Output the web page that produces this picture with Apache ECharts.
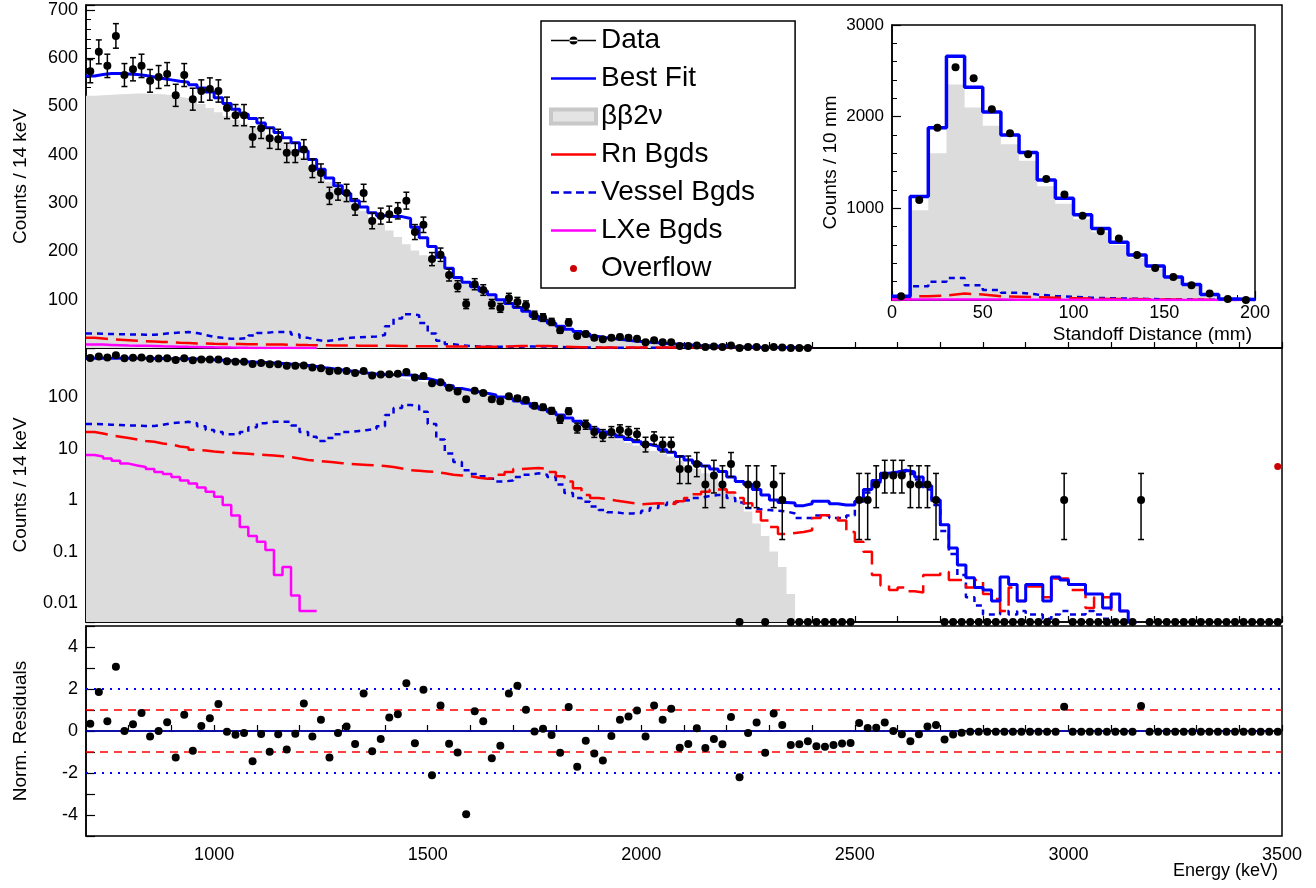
<!DOCTYPE html>
<html>
<head>
<meta charset="utf-8">
<script src="https://cdn.jsdelivr.net/npm/echarts@6/dist/echarts.min.js"></script>
<style>
  html, body { margin: 0; padding: 0; background: #fff; }
  #chart { width: 1316px; height: 888px; }
</style>
</head>
<body>
<div id="chart"></div>
<script>
// energy bins: 20 keV wide, centres 710 ... 3490
var binLo = 700, binW = 20;

var dataCounts = [
  573,613,584,646,565,577,584,553,561,567, 523,565,515,532,536,532,497,482,482,437,
  455,434,432,404,404,411,372,362,315,324, 321,292,321,263,273,277,284,305,240,255,
  184,193,151,128,91,132,120,91,83,103, 95,88,
  68,63,54,37,53,25,29,21,18,21, 23,21,19,12,16,12,12,4,4,5, 2,3,2,5,0,2,2,0,2,1,
  0,0,0,0,0,0,0,0,
  1,1,2,3,3,3,2,2,2,1,
  0,0,0,0,0,0,0,0,0,0, 0,0,0,0,1,0,0,0,0,0, 0,0,0,1,0,0,0,0,0,0, 0,0,0,0,0,0,0,0,0,0
];

var bestFit = [
  563,566,568,568,567,566,564,561,558,555, 552,550,545,538,530,518,506,494,484,475,
  466,456,446,435,425,408,390,370,352,336, 320,305,292,280,274,272,272,268,250,228,
  210,188,165,146,136,127,118,110,100,92, 84,76,
  65,58,51,45,39,34,29,24,21,19, 17,15,13.5,12,11,9.5,8.5,7,6,5.2, 4.6,4,3.6,
  2.8,2.3,2.0,1.6,1.25,1.0,0.9,0.88,0.78,0.85, 0.95,0.95,0.85,0.8,0.8,0.95,1.6,2.4,3.3,3.5,
  3.8,3.5,2.8,1.9,1.0,
  0.33,0.117,0.055,0.031,0.02,0.018,0.011,0.032,0.023,0.011, 0.023,0.023,0.011,0.032,0.028,0.023,0.023,0.015,0.015,0.008,
  0.015,0.007,0.004,0,0,0,0,0,0,0, 0,0,0,0,0,0,0,0,0,0
];

var bb2nu = [
  522,523,524,525,526,527,527,526,525,523, 520,517,512,505,497,488,480,472,464,456,
  448,440,432,425,412,396,378,360,344,328, 313,298,284,270,256,243,230,215,202,192,
  183,176,160,146,134,124,116,108,100,93, 86,78,
  62,55,48,42,36,31,26,22,19,17, 15,13,11.5,10,9,8,7,5.8,4.8,4.0,
  3.3,2.6,2.0,1.5,1.0,0.6,0.35,0.2,0.1,0.05, 0.015,
  0,0,0,0,0,0,0,0,0,0, 0,0,0,0,0,0,0,0,0,0, 0,0,0,0,0,0,0,0,0,0,
  0,0,0,0,0,0,0,0,0,0, 0,0,0,0,0,0,0,0,0,0, 0,0,0,0,0,0,0
];

var rnBgd = [
  21,19.5,18,17,16,15,14,13.5,12.5,12, 11,10.5,9.5,9.2,8.8,8.5,8.3,8.1,7.9,7.7,
  7.5,7.3,7.1,6.8,6.4,6.0,5.8,5.6,5.4,5.2, 5.0,4.9,4.8,4.7,4.6,4.4,4.1,3.8,3.7,3.6,
  3.5,3.3,3.1,3.0,2.9,2.7,2.6,2.7,3.1,3.5, 4.0,4.1,
  4.2,4.0,3.5,2.9,2.3,1.7,1.25,1.1,1.05,0.98, 0.93,0.88,0.83,0.85,0.87,0.85,0.84,0.95,1.1,1.3,
  1.45,1.6,1.63,1.4,1.1,0.87,0.6,0.4,0.3,0.22, 0.23,0.24,0.26,0.45,0.51,0.47,0.4,0.24,0.155,0.099,
  0.035,0.022,0.018,0.02,0.017,0.016,0.035,0.035,
  0.04,0.028,0.028,0.02,0.028,0.015,0.012,0.007,0.02,0.011, 0.021,0.021,0.013,0.03,0.03,0.018,0.018,0.008,0.013,0.013,
  0.007,0.007,0,0,0,0,0,0,0,0, 0,0,0,0,0,0,0,0,0,0
];

var vesselBgd = [
  30,29.5,29,28.5,28,28,27.5,27.5,29,31, 32,33,31,27,23,21,19,19,21,26,
  31,33,33,33,28,21,17,14,16,19, 21,22,23,24,27,45,61,70,68,52,
  30,15,8,5.5,3.8,3.2,2.9,2.6,2.3,2.4, 2.8,3.1,
  3.3,3.1,2.8,2.0,1.37,1.1,0.93,0.75,0.64,0.58, 0.55,0.55,0.56,0.62,0.7,0.8,0.9,0.98,1.0,1.1,
  1.2,1.25,1.25,1.1,0.9,0.7,0.66,0.64,0.62,0.6, 0.55,0.45,0.45,0.5,0.5,0.45,0.45,0.5,0.95,
  1.4,2.2,3.0,3.2,3.5,3.2,2.5,1.6,0.8,
  0.25,0.09,0.035,0.013,0.009,0.006,0.006,0.007,0.006,0.007, 0.006,0.006,0.005,0.006,0.007,0.006,0.006,0.007,0.006,0.005,
  0,0,0,0,0,0,0,0,0,0, 0,0,0,0,0,0,0,0,0,0
];

var lxeBgd = [
  7.5,7,6.4,5.8,5.1,4.7,4.4,4.0,3.5,3.2, 2.8,2.4,2.1,1.75,1.45,1.16,0.8,0.5,0.3,0.2,
  0.155,0.107,0.035,0.05,0.014,0.007,0.007
];

var residuals = [
  0.34,1.86,0.46,3.06,0,0.32,0.86,-0.26,0,0.42, -1.26,0.77,-0.94,0.24,0.61,1.28,-0.03,-0.18,-0.1,-1.44,
  -0.14,-0.99,-0.16,-0.88,-0.13,1.31,-0.26,0.53,-1.26,-0.1, 0.21,-0.62,1.79,-0.96,-0.38,0.64,0.8,2.27,-0.58,1.97,
  -2.11,1.22,-0.61,-1.02,-3.97,0.94,0.46,-1.3,-0.7,1.78, 2.16,1.01,-0.02,0.11,-0.19,-1.04,1.14,-1.7,-0.46,-1.07,
  -1.41,-0.24,0.54,0.69,0.98,-0.26,1.22,0.54,1.06,-0.8, -0.62,
  0.13,-0.81,-0.38,-0.63,0.67,-2.2,-0.1,0.41,-1.03,0.83, 0.29,-0.67,-0.63,-0.49,-0.73,-0.75,-0.67,-0.6,-0.57,0.38,
  0.14,0.16,0.4,0,-0.16,-0.49,-0.16,0.21,0.29,-0.41, -0.17,-0.08,
  -0.03,-0.03,-0.03,-0.03,-0.03,-0.03,-0.03,-0.03,-0.03,-0.03, -0.03,1.16,-0.03,-0.03,-0.03,-0.03,-0.03,-0.03,-0.03,-0.03,
  1.19,-0.03,-0.03,-0.03,-0.03,-0.03,-0.03,-0.03,-0.03,-0.03, -0.03,-0.03,-0.03,-0.03,-0.03,-0.03,-0.03
];

var overflow = [[3490, 4.5]];

// standoff inset: 10 mm bins 0..200
var sdData   = [40,1090,1880,2540,2420,2080,1820,1590,1320,1150,920,750,670,490,350,250,160,70,10,0];
var sdFit    = [40,1130,1880,2660,2320,2050,1800,1610,1310,1110,930,780,630,490,370,250,170,60,10,5];
var sdBB     = [30,980,1600,2350,2100,1900,1700,1520,1240,1050,880,740,600,460,340,240,160,60,10,5];
var sdVessel = [20,150,200,240,160,110,80,60,45,35,25,20,15,12,8,5,4,2,1,0];
var sdRn     = [10,40,50,70,60,40,35,30,25,20,15,12,10,8,6,4,3,2,1,0];
var sdLxe    = [5,5,6,6,5,5,4,4,3,3,3,2,2,2,1,1,1,1,0,0];

var LOGMIN = 0.0043, LOGMAX = 894, TOPCUT = 2400;

function steps(arr, lo, w, opts) {
  var out = [];
  for (var i = 0; i < arr.length; i++) {
    var a = lo + i * w, b = a + w, v = arr[i];
    if (opts.maxE && a >= opts.maxE) break;
    if (opts.log && !(v > 0)) { out.push([a, null]); continue; }
    out.push([a, v], [b, v]);
  }
  return out;
}
function centres(arr, opts) {
  var out = [];
  for (var i = 0; i < arr.length; i++) {
    var e = binLo + binW * (i + 0.5);
    if (opts.maxE && e >= opts.maxE) break;
    var v = arr[i];
    if (opts.log && v <= 0) v = LOGMIN;
    out.push([e, v]);
  }
  return out;
}
function poissonLo(n) { if (n <= 0) return 0; var t = 1 - 1 / (9 * n) - 1 / (3 * Math.sqrt(n)); return n * t * t * t; }
function poissonHi(n) { var m = n + 1; var t = 1 - 1 / (9 * m) + 1 / (3 * Math.sqrt(m)); return m * t * t * t; }

function errorBars(id, arr, opts) {
  var d = [];
  for (var i = 0; i < arr.length; i++) {
    var e = binLo + binW * (i + 0.5), n = arr[i];
    if (opts.maxE && e >= opts.maxE) break;
    if (n <= 0) continue;
    if (opts.log) d.push([e, poissonLo(n), poissonHi(n)]);
    else d.push([e, n - Math.sqrt(n), n + Math.sqrt(n)]);
  }
  return {
    type: 'custom', xAxisIndex: id, yAxisIndex: id, silent: true, z: 5,
    data: d,
    renderItem: function (params, api) {
      var p1 = api.coord([api.value(0), api.value(1)]);
      var p2 = api.coord([api.value(0), api.value(2)]);
      var st = { stroke: '#000', lineWidth: 1.5 };
      return { type: 'group', children: [
        { type: 'line', shape: { x1: p1[0], y1: p1[1], x2: p2[0], y2: p2[1] }, style: st },
        { type: 'line', shape: { x1: p1[0] - 3, y1: p1[1], x2: p1[0] + 3, y2: p1[1] }, style: st },
        { type: 'line', shape: { x1: p2[0] - 3, y1: p2[1], x2: p2[0] + 3, y2: p2[1] }, style: st }
      ] };
    }
  };
}

function stepLine(name, idx, pts, color, type, width, extra) {
  var s = {
    name: name, type: 'line', xAxisIndex: idx, yAxisIndex: idx, data: pts,
    symbol: 'none', connectNulls: false, animation: false,
    lineStyle: { color: color, width: width, type: type }, itemStyle: { color: color }
  };
  for (var k in extra) s[k] = extra[k];
  return s;
}

var FONT = 'Liberation Sans';
var axLine = { lineStyle: { color: '#000', width: 1.5 } };
var tick = { inside: true, length: 9, lineStyle: { color: '#000', width: 1.2 } };
var minor = { show: true, splitNumber: 5, length: 5, lineStyle: { color: '#000', width: 1 } };
var lbl = { color: '#000', fontFamily: FONT, fontSize: 18, formatter: function (v) { return String(v); } };

function energyAxis(idx, showLabels) {
  return {
    type: 'value', gridIndex: idx, min: 700, max: 3500, interval: 100,
    axisLine: axLine, axisTick: { inside: true, length: 6, lineStyle: { color: '#000', width: 1.2 } },
    splitLine: { show: false },
    axisLabel: showLabels ? Object.assign({}, lbl, { customValues: [1000, 1500, 2000, 2500, 3000, 3500], margin: 10 }) : { show: false }
  };
}
var nameStyle = { color: '#000', fontFamily: FONT, fontSize: 19 };

var topFilter = { maxE: TOPCUT };
var logOpt = { log: true };

var series = [
  // top linear panel
  stepLine('ββ2ν', 0, steps(bb2nu, binLo, binW, topFilter), '#d0d0d0', 'solid', 0, {
    areaStyle: { color: '#dcdcdc', opacity: 1 }, z: 1 }),
  stepLine('Vessel Bgds', 0, steps(vesselBgd, binLo, binW, topFilter), '#0000e0', [6, 5], 2.5, { z: 3 }),
  stepLine('Rn Bgds', 0, steps(rnBgd, binLo, binW, topFilter), '#ff0000', [22, 8], 2.5, { z: 3 }),
  stepLine('LXe Bgds', 0, steps(lxeBgd, binLo, binW, topFilter), '#ff00ff', 'solid', 2.5, { z: 3 }),
  stepLine('Best Fit', 0, steps(bestFit, binLo, binW, topFilter), '#0000ff', 'solid', 3, { z: 4 }),
  errorBars(0, dataCounts, topFilter),
  { name: 'Data', type: 'scatter', xAxisIndex: 0, yAxisIndex: 0, data: centres(dataCounts, topFilter),
    symbolSize: 8, itemStyle: { color: '#000', opacity: 1 }, z: 6, animation: false },

  // middle log panel
  stepLine('ββ2ν', 1, steps(bb2nu, binLo, binW, logOpt), '#d0d0d0', 'solid', 0, {
    areaStyle: { color: '#dcdcdc', opacity: 1, origin: 'start' }, z: 1 }),
  stepLine('Vessel Bgds', 1, steps(vesselBgd, binLo, binW, logOpt), '#0000e0', [6, 5], 2.5, { z: 3 }),
  stepLine('Rn Bgds', 1, steps(rnBgd, binLo, binW, logOpt), '#ff0000', [22, 8], 2.5, { z: 3 }),
  stepLine('LXe Bgds', 1, steps(lxeBgd, binLo, binW, logOpt), '#ff00ff', 'solid', 2.5, { z: 3 }),
  stepLine('Best Fit', 1, steps(bestFit, binLo, binW, logOpt), '#0000ff', 'solid', 3, { z: 4 }),
  errorBars(1, dataCounts, logOpt),
  { name: 'Data', type: 'scatter', xAxisIndex: 1, yAxisIndex: 1, data: centres(dataCounts, logOpt),
    symbolSize: 8, itemStyle: { color: '#000', opacity: 1 }, z: 6, animation: false },
  { name: 'Overflow', type: 'scatter', xAxisIndex: 1, yAxisIndex: 1, data: overflow,
    symbolSize: 7, itemStyle: { color: '#cc0000', opacity: 1 }, z: 6, animation: false },

  // residual panel
  { type: 'scatter', xAxisIndex: 2, yAxisIndex: 2, animation: false, z: 6,
    data: residuals.map(function (r, i) { return [binLo + binW * (i + 0.5), r]; }),
    symbolSize: 8, itemStyle: { color: '#000', opacity: 1 },
    markLine: { silent: true, symbol: 'none', label: { show: false }, animation: false,
      data: [
        { yAxis: 0, lineStyle: { color: '#0000cc', type: 'solid', width: 1.5 } },
        { yAxis: 1, lineStyle: { color: '#ff0000', type: [8, 6], width: 1.5 } },
        { yAxis: -1, lineStyle: { color: '#ff0000', type: [8, 6], width: 1.5 } },
        { yAxis: 2, lineStyle: { color: '#0000ff', type: [2, 6], width: 2 } },
        { yAxis: -2, lineStyle: { color: '#0000ff', type: [2, 6], width: 2 } }
      ] } },

  // standoff inset
  stepLine('ββ2ν', 3, steps(sdBB, 0, 10, {}), '#d0d0d0', 'solid', 0, {
    areaStyle: { color: '#dcdcdc', opacity: 1 }, z: 11 }),
  stepLine('Vessel Bgds', 3, steps(sdVessel, 0, 10, {}), '#0000e0', [6, 5], 2.5, { z: 12 }),
  stepLine('Rn Bgds', 3, steps(sdRn, 0, 10, {}), '#ff0000', [22, 8], 2.5, { z: 12 }),
  stepLine('LXe Bgds', 3, steps(sdLxe, 0, 10, {}), '#ff00ff', 'solid', 2.5, { z: 12 }),
  stepLine('Best Fit', 3, steps(sdFit, 0, 10, {}), '#0000ff', 'solid', 3.5, { z: 13 }),
  { name: 'Data', type: 'scatter', xAxisIndex: 3, yAxisIndex: 3, z: 14, animation: false,
    data: sdData.map(function (v, i) { return [5 + 10 * i, v]; }),
    symbolSize: 8, itemStyle: { color: '#000', opacity: 1 } }
];

var barIcon = 'path://M0,5.8L45,5.8L45,8.2L0,8.2Z';
var dashIcon = 'path://M0,5.8L8,5.8L8,8.2L0,8.2Z M12.5,5.8L20.5,5.8L20.5,8.2L12.5,8.2Z M25,5.8L33,5.8L33,8.2L25,8.2Z M37.5,5.8L45,5.8L45,8.2L37.5,8.2Z';
var dotIcon = 'path://M0,0L0.01,0L0.01,0.01Z M45,14L44.99,14L44.99,13.99Z M19,7a3.5,3.5 0 1,0 7,0a3.5,3.5 0 1,0 -7,0Z';

var chart = echarts.init(document.getElementById('chart'));
chart.setOption({
  animation: false,
  backgroundColor: '#fff',
  grid: [
    { left: 86, right: 34, top: 5, height: 343, show: true, borderColor: '#000', borderWidth: 1.5 },
    { left: 86, right: 34, top: 348, height: 274, show: true, borderColor: '#000', borderWidth: 1.5 },
    { left: 86, right: 34, top: 626, height: 210, show: true, borderColor: '#000', borderWidth: 1.5 },
    { left: 892, width: 363, top: 25, height: 275, show: true, borderColor: '#000', borderWidth: 1.5,
      backgroundColor: '#fff', z: 10 }
  ],
  xAxis: [
    energyAxis(0, false), energyAxis(1, false), energyAxis(2, true),
    { type: 'value', gridIndex: 3, min: 0, max: 200, interval: 50, axisLine: axLine,
      axisTick: tick, minorTick: minor, splitLine: { show: false }, z: 10,
      axisLabel: Object.assign({}, lbl, { margin: 4 }) }
  ],
  yAxis: [
    { type: 'value', gridIndex: 0, min: 0, max: 710, interval: 100, axisLine: axLine,
      axisTick: tick, minorTick: minor, splitLine: { show: false },
      axisLabel: Object.assign({}, lbl, { showMinLabel: false }),
      name: 'Counts / 14 keV', nameLocation: 'middle', nameGap: 56, nameTextStyle: nameStyle },
    { type: 'log', logBase: 10, gridIndex: 1, min: LOGMIN, max: LOGMAX, axisLine: axLine,
      axisTick: tick, splitLine: { show: false },
      axisLabel: Object.assign({}, lbl, { customValues: [0.01, 0.1, 1, 10, 100] }),
      name: 'Counts / 14 keV', nameLocation: 'middle', nameGap: 56, nameTextStyle: nameStyle },
    { type: 'value', gridIndex: 2, min: -5, max: 5, interval: 1, axisLine: axLine,
      axisTick: tick, splitLine: { show: false },
      axisLabel: Object.assign({}, lbl, { formatter: function (v) { return v % 2 === 0 ? String(v) : ''; } }),
      name: 'Norm. Residuals', nameLocation: 'middle', nameGap: 56, nameTextStyle: nameStyle },
    { type: 'value', gridIndex: 3, min: 0, max: 3000, interval: 1000, axisLine: axLine,
      axisTick: tick, minorTick: minor, splitLine: { show: false }, z: 10,
      axisLabel: Object.assign({}, lbl, { showMinLabel: false, fontSize: 17 }),
      name: 'Counts / 10 mm', nameLocation: 'middle', nameGap: 52, nameTextStyle: nameStyle }
  ],
  legend: {
    orient: 'vertical', left: 541, top: 21, padding: [5, 40, 5, 8], itemGap: 9,
    itemWidth: 45, itemHeight: 14, backgroundColor: '#fff', borderColor: '#000', borderWidth: 1.5,
    textStyle: { fontFamily: FONT, fontSize: 28, lineHeight: 29, color: '#000' },
    selectedMode: false, z: 20,
    data: [
      { name: 'Data', icon: 'path://M0,6.3L45,6.3L45,7.7L0,7.7Z M18.5,7a4,4 0 1,0 8,0a4,4 0 1,0 -8,0Z', itemStyle: { color: '#000' } },
      { name: 'Best Fit', icon: barIcon, itemStyle: { color: '#0000ff' } },
      { name: 'ββ2ν', icon: 'rect', itemStyle: { color: '#e4e4e4', borderColor: '#c8c8c8', borderWidth: 4 } },
      { name: 'Rn Bgds', icon: barIcon, itemStyle: { color: '#ff0000' } },
      { name: 'Vessel Bgds', icon: dashIcon, itemStyle: { color: '#0000e0' } },
      { name: 'LXe Bgds', icon: barIcon, itemStyle: { color: '#ff00ff' } },
      { name: 'Overflow', icon: dotIcon, itemStyle: { color: '#cc0000' } }
    ]
  },
  graphic: [
    { type: 'text', right: 38, top: 862, z: 30,
      style: { text: 'Energy (keV)', font: '18px ' + FONT, fill: '#000' } },
    { type: 'text', right: 64, top: 325, z: 30,
      style: { text: 'Standoff Distance (mm)', font: '19px ' + FONT, fill: '#000' } }
  ],
  series: series
});
</script>
</body>
</html>
